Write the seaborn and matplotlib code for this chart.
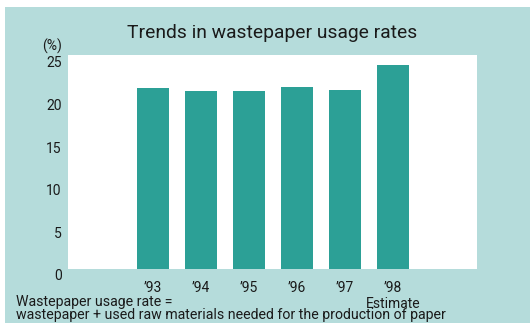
import matplotlib
matplotlib.use("Agg")
import matplotlib.pyplot as plt
import matplotlib.transforms as mtransforms
from matplotlib.patches import Rectangle
import seaborn as sns
import pandas as pd

years = ["\u201993", "\u201994", "\u201995", "\u201996", "\u201997", "\u201998\nEstimate"]
rates = [21.2, 20.9, 20.9, 21.4, 21.0, 23.9]
yticks = [0, 5, 10, 15, 20, 25]

title = "Trends in wastepaper usage rates"
note1 = "Wastepaper usage rate ="
note2 = "wastepaper + used raw materials needed for the production of paper"

BG = "#b5dcdb"
BAR = "#2ca096"
TXT = "#1a1a1a"

sns.set_theme(style="white")
plt.rcParams["font.family"] = ["Roboto", "DejaVu Sans"]

W, H = 530, 323
fig = plt.figure(figsize=(W / 100, H / 100), dpi=100, facecolor="white")
fig.patches.append(Rectangle((5 / W, 0), 1 - 5 / W, (H - 7) / H, transform=fig.transFigure,
                             facecolor=BG, edgecolor="none", zorder=-10))

ax = fig.add_axes([68 / W, (H - 269) / H, (476.5 - 68) / W, (269 - 55) / H])
ax.set_facecolor("white")

df = pd.DataFrame({"year": years, "rate": rates})
sns.barplot(data=df, x="year", y="rate", color=BAR, saturation=1, width=0.67,
            edgecolor="none", ax=ax)

ax.set_xlim(-1.77, 6.745)
ax.set_ylim(0, 25.1)
ax.set_yticks(yticks)
ax.set_yticklabels([str(t) for t in yticks])
ax.set_xlabel("")
ax.set_ylabel("")
for s in ax.spines.values():
    s.set_visible(False)
ax.tick_params(axis="both", length=0, colors=TXT, labelsize=10)
ax.tick_params(axis="y", pad=4.5)
ax.tick_params(axis="x", pad=9)

off = mtransforms.ScaledTranslation(0, -6 / 100, fig.dpi_scale_trans)
for lab in ax.get_yticklabels():
    lab.set_transform(lab.get_transform() + off)
for lab in ax.get_xticklabels():
    lab.set_linespacing(1.15)

fig.text(272 / W, 1 - 33 / H, title, ha="center", va="center", fontsize=13.9, color=TXT)
fig.text(52 / W, 1 - 46.5 / H, "(%)", ha="center", va="center", fontsize=10, color=TXT)
fig.text(16 / W, 1 - 302 / H, note1, ha="left", va="center", fontsize=10.2, color=TXT)
fig.text(16 / W, 1 - 315.5 / H, note2, ha="left", va="center", fontsize=10.2, color=TXT)

fig.savefig("out.png", dpi=100, facecolor=fig.get_facecolor())
